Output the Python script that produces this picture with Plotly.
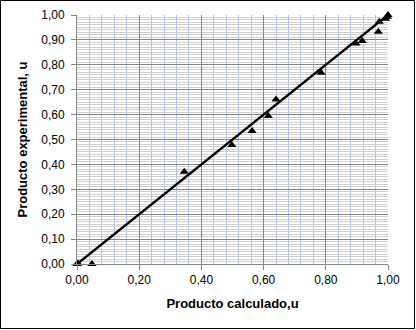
import plotly.graph_objects as go

calc = [0.0, 0.003, 0.048, 0.345, 0.498, 0.563, 0.615, 0.640, 0.785, 0.897, 0.917, 0.969, 0.972, 0.992, 0.998, 1.0]
expe = [0.0, 0.002, 0.0, 0.370, 0.478, 0.534, 0.594, 0.661, 0.768, 0.886, 0.896, 0.933, 0.973, 0.985, 0.993, 1.0]
fit_x = [0.0, 1.0]
fit_y = [0.0, 1.0]

W, H = 416, 330
L, R, T, B = 77, 28, 15, 66
pw, ph = W - L - R, H - T - B

fig = go.Figure()
fig.add_trace(go.Scatter(x=fit_x, y=fit_y, mode="lines",
                         line=dict(color="black", width=2.5), showlegend=False,
                         cliponaxis=False))
fig.add_trace(go.Scatter(x=calc, y=expe, mode="markers",
                         marker=dict(symbol="triangle-up", color="black", size=8),
                         showlegend=False, cliponaxis=False))

font = dict(family="Liberation Sans, Arial, sans-serif", size=12, color="#000000")
fig.update_layout(
    width=W, height=H,
    margin=dict(l=L, r=R, t=T, b=B),
    paper_bgcolor="white", plot_bgcolor="white",
    separators=",.",
    font=font,
    xaxis=dict(range=[0, 1], dtick=0.2, tickformat=".2f", automargin=False,
               showgrid=True, gridcolor="#868686", gridwidth=1,
               minor=dict(dtick=0.04, showgrid=True, gridcolor="#a9c2ee", gridwidth=1),
               showline=True, linecolor="#868686", linewidth=1,
               ticks="outside", ticklen=5, tickcolor="#868686",
               zeroline=False, fixedrange=True,
               title=dict(text="<b>Producto calculado,u</b>", font=dict(size=13), standoff=12)),
    yaxis=dict(range=[0, 1], dtick=0.1, tickformat=".2f", automargin=False,
               showgrid=True, gridcolor="#868686", gridwidth=1,
               minor=dict(dtick=0.01, showgrid=True, gridcolor="#cfcfcf", gridwidth=1),
               showline=True, linecolor="#868686", linewidth=1,
               ticks="outside", ticklen=5, tickcolor="#868686",
               ticklabelstandoff=4,
               zeroline=False, fixedrange=True,
               title=dict(text="<b>Producto experimental, u</b>", font=dict(size=13), standoff=10)),
    shapes=[dict(type="rect", xref="paper", yref="paper",
                 x0=-(L - 0.5) / pw, x1=1 + (R - 1.5) / pw,
                 y0=-(B - 1.5) / ph, y1=1 + (T - 0.5) / ph,
                 line=dict(color="black", width=1), layer="above")],
)
fig.write_html("out.html", config={"displayModeBar": False},
               post_script="document.body.style.margin='0';document.body.style.padding='0';")
